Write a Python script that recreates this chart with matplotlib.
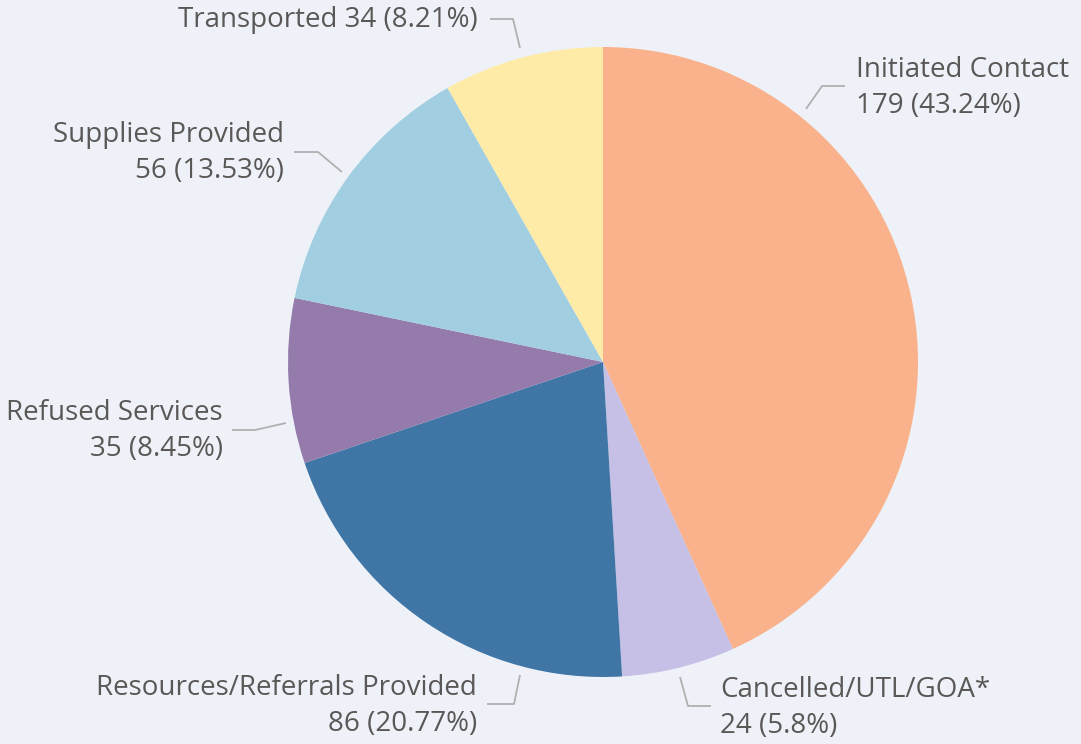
import numpy as np
import matplotlib.pyplot as plt

categories = ["Initiated Contact", "Cancelled/UTL/GOA*", "Resources/Referrals Provided",
              "Refused Services", "Supplies Provided", "Transported"]
counts = [179, 24, 86, 35, 56, 34]
percent_labels = ["43.24%", "5.8%", "20.77%", "8.45%", "13.53%", "8.21%"]
colors = ["#F9B28B", "#C6BFE6", "#3F76A6", "#947BAC", "#A1CEE0", "#FFEBA8"]

W, H = 1081, 744
bg = "#EEF2F8"
text_color = "#5A5856"
line_color = "#B0B0B0"

fig = plt.figure(figsize=(W / 100, H / 100), dpi=100, facecolor=bg)
ax = fig.add_axes([0, 0, 1, 1])
ax.set_facecolor(bg)

cx, cy, r = 603, H - 362, 315
ax.pie(counts, colors=colors, startangle=90, counterclock=False,
       center=(cx, cy), radius=r, frame=True,
       wedgeprops=dict(linewidth=0))
ax.set_xlim(0, W)
ax.set_ylim(0, H)
ax.set_aspect("equal")
ax.axis("off")

# leader lines (pixel coords, y from top) and label anchors
leaders = [
    [(806, 109), (822, 86), (845, 86)],
    [(680, 677), (688, 706), (711, 706)],
    [(520, 675), (514, 704), (487, 704)],
    [(286, 423), (255, 430), (232, 430)],
    [(342, 172), (318, 152), (294, 152)],
    [(520, 48), (513, 19), (490, 19)],
]
label_pos = [
    (856, 88, "left"),
    (720, 708, "left"),
    (477, 706, "right"),
    (223, 431, "right"),
    (284, 153, "right"),
    (478, 20, "right"),
]

for i, (name, n, pct) in enumerate(zip(categories, counts, percent_labels)):
    pts = leaders[i]
    ax.plot([p[0] for p in pts], [H - p[1] for p in pts], color=line_color, lw=1.3,
            solid_capstyle="butt")
    x, y, ha = label_pos[i]
    if name == "Transported":
        txt = f"{name} {n} ({pct})"
    else:
        txt = f"{name}\n{n} ({pct})"
    ax.text(x, H - y, txt, ha=ha, va="center", fontsize=20, color=text_color,
            family=["Open Sans", "DejaVu Sans"], linespacing=1.42,
            multialignment=ha)

fig.savefig("out.png", dpi=100, facecolor=bg)
